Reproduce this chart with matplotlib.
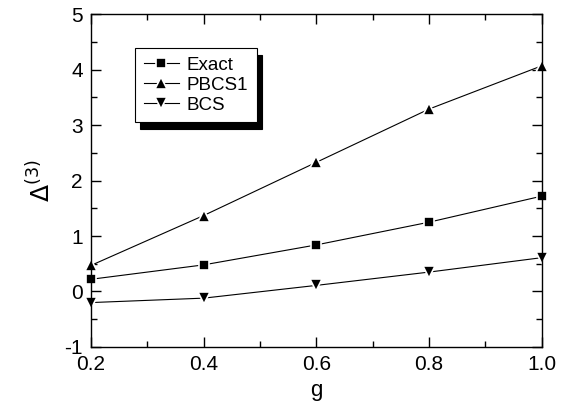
import matplotlib
matplotlib.use("Agg")
import matplotlib.pyplot as plt
from matplotlib.ticker import MultipleLocator

plt.rcParams["font.family"] = ["Liberation Sans", "DejaVu Sans"]

g = [0.2, 0.4, 0.6, 0.8, 1.0]
exact = [0.22, 0.48, 0.84, 1.25, 1.72]
pbcs1 = [0.47, 1.37, 2.33, 3.29, 4.07]
bcs = [-0.20, -0.12, 0.11, 0.35, 0.61]

fig = plt.figure(figsize=(5.65, 4.18), dpi=100)
ax = fig.add_axes([0.161, 0.170, 0.798, 0.796])

# white marker edges give the small gap between line and symbol
style = dict(color="black", lw=0.8, mec="white", mew=1.2, clip_on=False)
ax.plot(g, exact, marker="s", ms=7, label="Exact", **style)
ax.plot(g, pbcs1, marker="^", ms=8, label="PBCS1", **style)
ax.plot(g, bcs, marker="v", ms=8, label="BCS", **style)

ax.set_xlim(0.2, 1.0)
ax.set_ylim(-1, 5)
ax.xaxis.set_major_locator(MultipleLocator(0.2))
ax.xaxis.set_minor_locator(MultipleLocator(0.1))
ax.yaxis.set_major_locator(MultipleLocator(1))
ax.yaxis.set_minor_locator(MultipleLocator(0.5))
ax.xaxis.set_major_formatter(plt.FuncFormatter(lambda v, p: f"{v:.1f}"))
ax.yaxis.set_major_formatter(plt.FuncFormatter(lambda v, p: f"{v:.0f}"))
ax.tick_params(which="both", direction="in", top=True, right=True, width=1, labelsize=15)
ax.tick_params(which="major", length=7, pad=6)
ax.tick_params(which="minor", length=4)
for s in ax.spines.values():
    s.set_linewidth(1)

ax.set_xlabel("g", fontsize=16, labelpad=4)
ax.set_ylabel(r"$\Delta^{(3)}$", fontsize=18, labelpad=6)

leg = ax.legend(loc="upper left", bbox_to_anchor=(0.098, 0.898), borderaxespad=0,
                fontsize=13.5, handlelength=1.9, handletextpad=0.4,
                frameon=True, fancybox=False, edgecolor="black",
                framealpha=1, borderpad=0.45, labelspacing=0.15,
                shadow={"color": "black", "alpha": 1, "ox": 3.5, "oy": -5})
leg.get_frame().set_linewidth(0.8)

fig.savefig("out.png", dpi=100)
